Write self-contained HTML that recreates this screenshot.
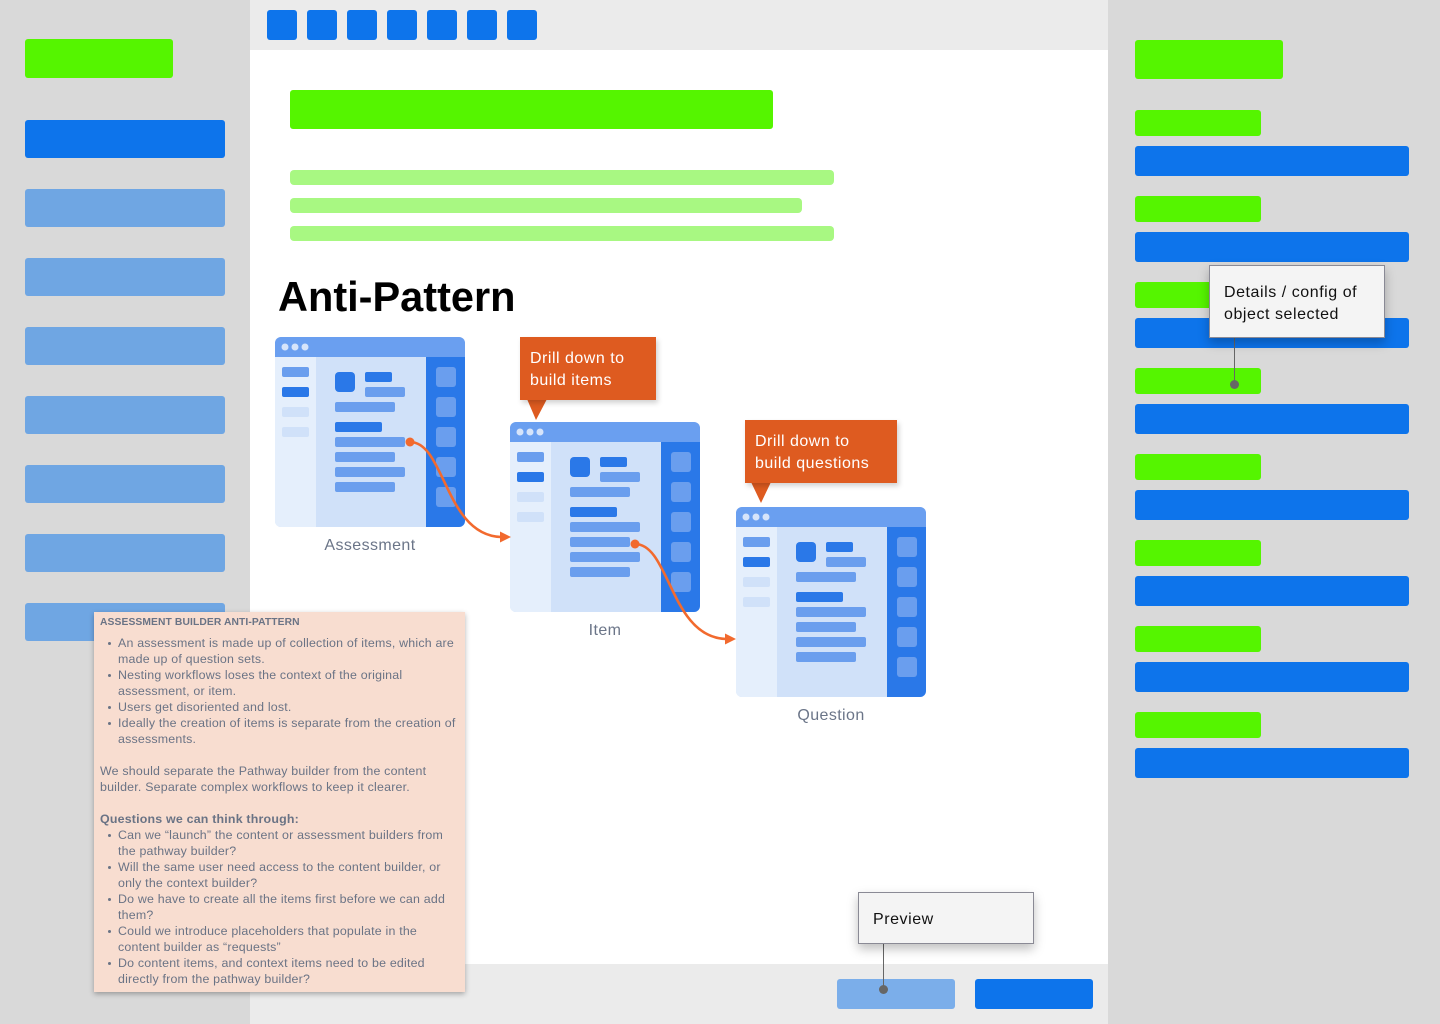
<!DOCTYPE html>
<html><head><meta charset="utf-8">
<style>
*{margin:0;padding:0;box-sizing:border-box}
body{width:1440px;height:1024px;position:relative;overflow:hidden;background:#fff;font-family:"Liberation Sans",Arial,sans-serif}
.a{position:absolute}
.r{border-radius:3px}
.g{background:#55F500}
.b{background:#0D74EB}
.lb{background:#6FA6E3}
.lg{background:#A8F882;border-radius:4px}
.call{position:absolute;background:#DE5B20;color:#fff;font-size:16px;letter-spacing:0.5px;line-height:22px;padding:10px 10px;box-shadow:2px 3px 5px rgba(0,0,0,0.18)}
.box{position:absolute;background:#F4F4F4;border:1px solid #8A8A95;color:#111;font-size:16px;letter-spacing:0.55px;line-height:22px;box-shadow:0 5px 10px rgba(0,0,0,0.25)}
.lbl{position:absolute;font-size:16px;letter-spacing:0.4px;color:#6B7588;text-align:center;width:200px}
.note{position:absolute;left:94px;top:612px;width:371px;height:380px;background:#F8DDD0;box-shadow:0 2px 5px rgba(0,0,0,0.3);color:#6A7385;font-size:12.4px;letter-spacing:0.2px;line-height:16px;padding:3px 6px 0 6px;white-space:nowrap}
.note h4{font-size:10.3px;font-weight:bold;line-height:16px;letter-spacing:0.1px}
.note ul{list-style:none;margin:4px 0 0 0}
.note li{position:relative;padding-left:18px}
.note li:before{content:"";position:absolute;left:8px;top:7px;width:3px;height:3px;border-radius:50%;background:#6A7385}
.note p{margin:0}
</style></head><body>
<!-- left sidebar -->
<div class="a" style="left:0;top:0;width:250px;height:1024px;background:#D9D9D9"></div>
<div class="a g r" style="left:25px;top:39px;width:148px;height:39px"></div>
<div class="a b r" style="left:25px;top:120px;width:200px;height:38px"></div>
<div class="a lb r" style="left:25px;top:189px;width:200px;height:38px"></div>
<div class="a lb r" style="left:25px;top:258px;width:200px;height:38px"></div>
<div class="a lb r" style="left:25px;top:327px;width:200px;height:38px"></div>
<div class="a lb r" style="left:25px;top:396px;width:200px;height:38px"></div>
<div class="a lb r" style="left:25px;top:465px;width:200px;height:38px"></div>
<div class="a lb r" style="left:25px;top:534px;width:200px;height:38px"></div>
<div class="a lb r" style="left:25px;top:603px;width:200px;height:38px"></div>

<!-- right sidebar -->
<div class="a" style="left:1108px;top:0;width:332px;height:1024px;background:#D9D9D9"></div>
<div class="a g r" style="left:1135px;top:40px;width:148px;height:39px"></div>
<div class="a g r" style="left:1135px;top:110px;width:126px;height:26px"></div>
<div class="a b r" style="left:1135px;top:146px;width:274px;height:30px"></div>
<div class="a g r" style="left:1135px;top:196px;width:126px;height:26px"></div>
<div class="a b r" style="left:1135px;top:232px;width:274px;height:30px"></div>
<div class="a g r" style="left:1135px;top:282px;width:126px;height:26px"></div>
<div class="a b r" style="left:1135px;top:318px;width:274px;height:30px"></div>
<div class="a g r" style="left:1135px;top:368px;width:126px;height:26px"></div>
<div class="a b r" style="left:1135px;top:404px;width:274px;height:30px"></div>
<div class="a g r" style="left:1135px;top:454px;width:126px;height:26px"></div>
<div class="a b r" style="left:1135px;top:490px;width:274px;height:30px"></div>
<div class="a g r" style="left:1135px;top:540px;width:126px;height:26px"></div>
<div class="a b r" style="left:1135px;top:576px;width:274px;height:30px"></div>
<div class="a g r" style="left:1135px;top:626px;width:126px;height:26px"></div>
<div class="a b r" style="left:1135px;top:662px;width:274px;height:30px"></div>
<div class="a g r" style="left:1135px;top:712px;width:126px;height:26px"></div>
<div class="a b r" style="left:1135px;top:748px;width:274px;height:30px"></div>

<!-- top bar -->
<div class="a" style="left:250px;top:0;width:858px;height:50px;background:#EBEBEB"></div>
<div class="a b r" style="left:267px;top:10px;width:30px;height:30px"></div>
<div class="a b r" style="left:307px;top:10px;width:30px;height:30px"></div>
<div class="a b r" style="left:347px;top:10px;width:30px;height:30px"></div>
<div class="a b r" style="left:387px;top:10px;width:30px;height:30px"></div>
<div class="a b r" style="left:427px;top:10px;width:30px;height:30px"></div>
<div class="a b r" style="left:467px;top:10px;width:30px;height:30px"></div>
<div class="a b r" style="left:507px;top:10px;width:30px;height:30px"></div>

<!-- bottom bar -->
<div class="a" style="left:250px;top:964px;width:858px;height:60px;background:#EBEBEB"></div>
<div class="a r" style="left:837px;top:979px;width:118px;height:30px;background:#7BAEEA"></div>
<div class="a b r" style="left:975px;top:979px;width:118px;height:30px"></div>

<!-- main content -->
<div class="a g r" style="left:290px;top:90px;width:483px;height:39px"></div>
<div class="a lg" style="left:290px;top:170px;width:544px;height:15px"></div>
<div class="a lg" style="left:290px;top:198px;width:512px;height:15px"></div>
<div class="a lg" style="left:290px;top:226px;width:544px;height:15px"></div>
<div class="a" style="left:278px;top:272px;font-size:41.5px;font-weight:bold;color:#000;line-height:50px">Anti-Pattern</div>

<svg class="a" style="left:0;top:0" width="1440" height="1024" viewBox="0 0 1440 1024">
<defs>
<clipPath id="cp"><rect x="0" y="0" width="190" height="190" rx="6"/></clipPath>
<g id="wf">
<g clip-path="url(#cp)">
<rect x="0" y="0" width="190" height="190" fill="#D0E1F9"/>
<rect x="0" y="20" width="41" height="170" fill="#E5EFFC"/>
<rect x="151" y="20" width="39" height="170" fill="#2A78E8"/>
<rect x="0" y="0" width="190" height="20" fill="#6A9FF0"/>
</g>
<circle cx="10" cy="10" r="3.5" fill="#D6E4FA"/>
<circle cx="20" cy="10" r="3.5" fill="#D6E4FA"/>
<circle cx="30" cy="10" r="3.5" fill="#D6E4FA"/>
<rect x="7" y="30" width="27" height="10" rx="2" fill="#6A9EEE"/>
<rect x="7" y="50" width="27" height="10" rx="2" fill="#2A78E8"/>
<rect x="7" y="70" width="27" height="10" rx="2" fill="#D0E1F9"/>
<rect x="7" y="90" width="27" height="10" rx="2" fill="#D0E1F9"/>
<rect x="60" y="35" width="20" height="20" rx="4" fill="#2A78E8"/>
<rect x="90" y="35" width="27" height="10" rx="2" fill="#2A78E8"/>
<rect x="90" y="50" width="40" height="10" rx="2" fill="#6A9EEE"/>
<rect x="60" y="65" width="60" height="10" rx="2" fill="#6A9EEE"/>
<rect x="60" y="85" width="47" height="10" rx="2" fill="#2A78E8"/>
<rect x="60" y="100" width="70" height="10" rx="2" fill="#6A9EEE"/>
<rect x="60" y="115" width="60" height="10" rx="2" fill="#6A9EEE"/>
<rect x="60" y="130" width="70" height="10" rx="2" fill="#6A9EEE"/>
<rect x="60" y="145" width="60" height="10" rx="2" fill="#6A9EEE"/>
<rect x="161" y="30" width="20" height="20" rx="3" fill="#6A9EEE"/>
<rect x="161" y="60" width="20" height="20" rx="3" fill="#6A9EEE"/>
<rect x="161" y="90" width="20" height="20" rx="3" fill="#6A9EEE"/>
<rect x="161" y="120" width="20" height="20" rx="3" fill="#6A9EEE"/>
<rect x="161" y="150" width="20" height="20" rx="3" fill="#6A9EEE"/>
</g>
</defs>
<use href="#wf" x="275" y="337"/>
<use href="#wf" x="510" y="422"/>
<use href="#wf" x="736" y="507"/>
<!-- connectors -->
<path d="M410 442 C445 442 445 535 501 537" fill="none" stroke="#F26A2E" stroke-width="2.6"/>
<circle cx="410" cy="442" r="4.5" fill="#F26A2E"/>
<polygon points="500,531.5 511,537 500,542.5" fill="#F26A2E"/>
<path d="M635 544 C670 544 670 637 726 639" fill="none" stroke="#F26A2E" stroke-width="2.6"/>
<circle cx="635" cy="544" r="4.5" fill="#F26A2E"/>
<polygon points="725,633.5 736,639 725,644.5" fill="#F26A2E"/>
<!-- callout pointers -->
<polygon points="527,399 547,399 536,420" fill="#DE5B20"/>
<polygon points="751,482 771,482 761,503" fill="#DE5B20"/>
</svg>

<div class="call" style="left:520px;top:337px;width:136px;height:63px;padding-top:11px">Drill down to<br>build items</div>
<div class="call" style="left:745px;top:420px;width:152px;height:63px;padding-top:11px">Drill down to<br>build questions</div>

<div class="lbl" style="left:270px;top:537px">Assessment</div>
<div class="lbl" style="left:505px;top:622px">Item</div>
<div class="lbl" style="left:731px;top:707px">Question</div>

<!-- note -->
<div class="note">
<h4>ASSESSMENT BUILDER ANTI-PATTERN</h4>
<ul style="margin-top:4px">
<li>An assessment is made up of collection of items, which are<br>made up of question sets.</li>
<li>Nesting workflows loses the context of the original<br>assessment, or item.</li>
<li>Users get disoriented and lost.</li>
<li>Ideally the creation of items is separate from the creation of<br>assessments.</li>
</ul>
<p style="margin-top:16px">We should separate the Pathway builder from the content<br>builder. Separate complex workflows to keep it clearer.</p>
<p style="margin-top:16px;font-weight:bold">Questions we can think through:</p>
<ul style="margin-top:0">
<li>Can we “launch” the content or assessment builders from<br>the pathway builder?</li>
<li>Will the same user need access to the content builder, or<br>only the context builder?</li>
<li>Do we have to create all the items first before we can add<br>them?</li>
<li>Could we introduce placeholders that populate in the<br>content builder as “requests”</li>
<li>Do content items, and context items need to be edited<br>directly from the pathway builder?</li>
</ul>
</div>

<!-- details callout -->
<div class="a" style="left:1234px;top:338px;width:1px;height:46px;background:#666"></div>
<div class="a" style="left:1230px;top:380px;width:9px;height:9px;border-radius:50%;background:#666"></div>
<div class="box" style="left:1209px;top:265px;width:176px;height:73px;padding:16px 0 0 14px">Details / config of<br>object selected</div>

<!-- preview callout -->
<div class="a" style="left:883px;top:943px;width:1px;height:46px;background:#666"></div>
<div class="a" style="left:879px;top:985px;width:9px;height:9px;border-radius:50%;background:#666"></div>
<div class="box" style="left:858px;top:892px;width:176px;height:52px;padding:16px 0 0 14px">Preview</div>
</body></html>
